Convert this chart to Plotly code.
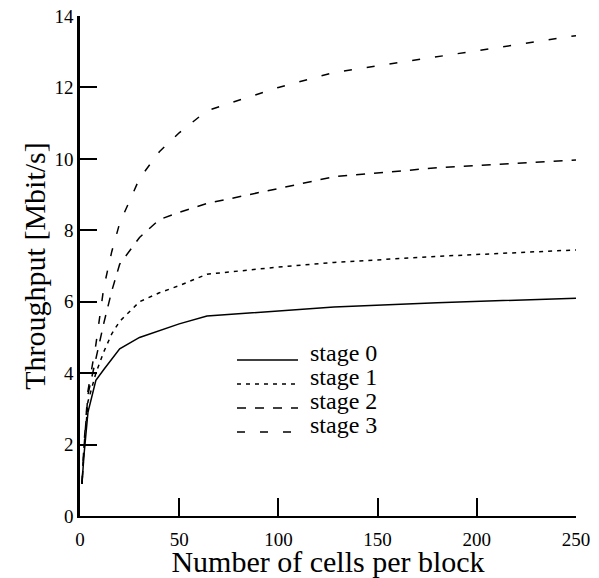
import plotly.graph_objects as go

cells = [1, 2, 4, 8, 12, 16, 20, 30, 40, 50, 64, 100, 128, 180, 250]
stage0 = [0.9, 1.7, 2.9, 3.8, 4.1, 4.4, 4.68, 5.0, 5.2, 5.38, 5.6, 5.75, 5.85, 5.97, 6.1]
stage1 = [0.9, 1.8, 3.2, 4.0, 4.6, 5.1, 5.45, 6.0, 6.25, 6.45, 6.77, 6.97, 7.1, 7.27, 7.45]
stage2 = [0.9, 1.9, 3.4, 4.4, 5.4, 6.3, 7.05, 7.8, 8.3, 8.5, 8.75, 9.17, 9.5, 9.75, 9.97]
stage3 = [0.9, 2.0, 3.5, 4.8, 6.4, 7.4, 8.2, 9.45, 10.2, 10.73, 11.35, 12.0, 12.42, 12.85, 13.45]

names = ["stage 0", "stage 1", "stage 2", "stage 3"]
series = [stage0, stage1, stage2, stage3]
dashes = ["solid", "4px,5px", "9px,9px", "8px,15px"]

x_ticks = [0, 50, 100, 150, 200, 250]
y_ticks = [0, 2, 4, 6, 8, 10, 12, 14]

FONT = "Times New Roman"

# layout geometry (page has an 8px body margin)
W, H = 591, 570
ML, MT, PW, PH = 72, 8, 496, 500

fig = go.Figure()
for n, s, d in zip(names, series, dashes):
    fig.add_trace(go.Scatter(x=cells, y=s, mode="lines", name=n, showlegend=False,
                             line=dict(color="black", width=1.5, dash=d)))

# hand-drawn legend (key lines + labels), positioned in paper coordinates
key_x0, key_x1, text_x = 157 / PW, 218 / PW, 228 / PW
row_base = [360, 384, 408, 432]  # screen baselines of legend rows
for n, d, yb in zip(names, dashes, row_base):
    yp = (516 - yb) / PH
    fig.add_shape(type="line", xref="paper", yref="paper", x0=key_x0, x1=key_x1,
                  y0=yp, y1=yp, line=dict(color="black", width=1.5, dash=d))
    fig.add_annotation(xref="paper", yref="paper", x=text_x, y=yp + 7 / PH,
                       xanchor="left", yanchor="middle", text=n, showarrow=False,
                       font=dict(size=24, family=FONT, color="black"))

fig.update_layout(
    width=W, height=H,
    margin=dict(l=ML, r=W - ML - PW, t=MT, b=H - MT - PH, autoexpand=False),
    paper_bgcolor="white", plot_bgcolor="white",
    font=dict(family=FONT, color="black", size=19),
    showlegend=False,
)
fig.update_xaxes(range=[0, 250], tickvals=x_ticks, ticks="inside", ticklen=18,
                 tickwidth=1.5, tickcolor="black", showline=True, linecolor="black",
                 linewidth=2, showgrid=False, zeroline=False, automargin=False,
                 ticklabeloverflow="allow",
                 tickfont=dict(size=19, family=FONT, color="black"), ticklabelstandoff=5,
                 title=dict(text="Number of cells per block",
                            font=dict(size=30, family=FONT, color="black"), standoff=4))
fig.update_yaxes(range=[0, 14], tickvals=y_ticks, ticks="inside", ticklen=17,
                 tickwidth=1.5, tickcolor="black", showline=True, linecolor="black",
                 linewidth=2.5, showgrid=False, zeroline=False, automargin=False,
                 ticklabeloverflow="allow",
                 tickfont=dict(size=19, family=FONT, color="black"), ticklabelstandoff=0,
                 title=dict(text="Throughput [Mbit/s]",
                            font=dict(size=30, family=FONT, color="black"), standoff=0))

fig.write_html("out.html")
